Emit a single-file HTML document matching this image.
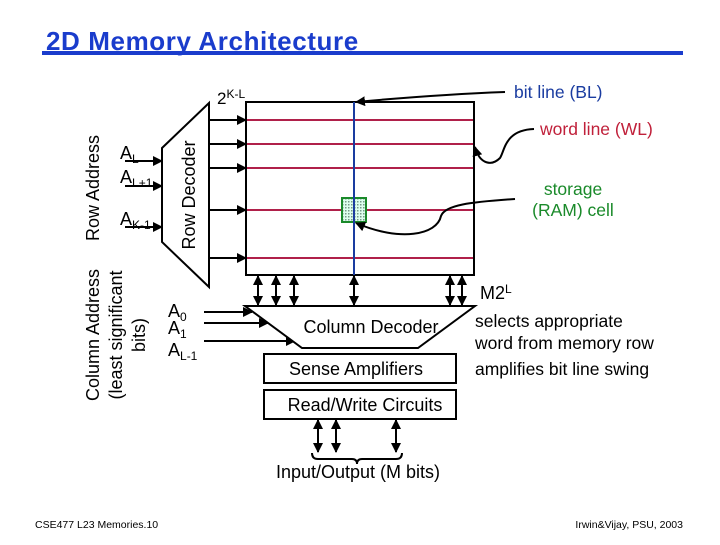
<!DOCTYPE html>
<html><head><style>
body{margin:0;background:#fff;}
svg text{font-family:"Liberation Sans",Arial,sans-serif;}
</style></head><body>
<svg width="720" height="540" viewBox="0 0 720 540" xmlns="http://www.w3.org/2000/svg">
<defs>
<marker id="a" viewBox="0 0 10 10" refX="9" refY="5" markerWidth="5" markerHeight="5" orient="auto-start-reverse"><path d="M0,0L10,5L0,10z" fill="#000"/></marker>
<pattern id="dots" width="3" height="3" patternUnits="userSpaceOnUse"><rect width="3" height="3" fill="#dfe"/><rect width="1.5" height="1.5" fill="#798"/></pattern>
</defs>
<text x="46" y="50" font-size="26" font-weight="bold" fill="#1a3ccc" letter-spacing="0.6">2D Memory Architecture</text>
<rect x="42" y="51" width="641" height="4" fill="#1a3ccc"/>

<!-- array -->
<rect x="246" y="102" width="228" height="173" fill="#fff" stroke="#000" stroke-width="2"/>
<g stroke="#b0204a" stroke-width="2">
<line x1="247" y1="120" x2="473" y2="120"/><line x1="247" y1="144" x2="473" y2="144"/>
<line x1="247" y1="168" x2="473" y2="168"/><line x1="247" y1="210" x2="473" y2="210"/>
<line x1="247" y1="258" x2="473" y2="258"/></g>
<rect x="342" y="198" width="24" height="24" fill="url(#dots)" stroke="#1a8a2a" stroke-width="2"/>
<line x1="354" y1="102" x2="354" y2="275" stroke="#1a3ca0" stroke-width="2"/>

<!-- row decoder -->
<path d="M162,148 L209,103 L209,287 L162,242 Z" fill="#fff" stroke="#000" stroke-width="2"/>
<text transform="translate(195,195) rotate(-90)" text-anchor="middle" font-size="18">Row Decoder</text>
<g stroke="#000" stroke-width="2" marker-end="url(#a)">
<line x1="209" y1="120" x2="246" y2="120"/><line x1="209" y1="144" x2="246" y2="144"/>
<line x1="209" y1="168" x2="246" y2="168"/><line x1="209" y1="210" x2="246" y2="210"/>
<line x1="209" y1="258" x2="246" y2="258"/>
<line x1="125" y1="161" x2="162" y2="161"/><line x1="125" y1="186" x2="162" y2="186"/>
<line x1="125" y1="227" x2="162" y2="227"/>
<line x1="204" y1="312" x2="252" y2="312"/><line x1="204" y1="323" x2="268" y2="323"/>
<line x1="204" y1="341" x2="295" y2="341"/>
</g>
<text x="120" y="159" font-size="18">A<tspan font-size="12" dy="4">L</tspan></text>
<text x="120" y="183" font-size="18">A<tspan font-size="12" dy="4">L+1</tspan></text>
<text x="120" y="225" font-size="18">A<tspan font-size="12" dy="4">K-1</tspan></text>
<text x="217" y="104" font-size="17">2<tspan font-size="12" dy="-6">K-L</tspan></text>

<text transform="translate(99,188) rotate(-90)" text-anchor="middle" font-size="18">Row Address</text>
<text transform="translate(99,335) rotate(-90)" text-anchor="middle" font-size="18">Column Address</text>
<text transform="translate(122,335) rotate(-90)" text-anchor="middle" font-size="18">(least significant</text>
<text transform="translate(145,335) rotate(-90)" text-anchor="middle" font-size="18">bits)</text>

<!-- column decoder -->
<path d="M245,306 L475,306 L418,348 L302,348 Z" fill="#fff" stroke="#000" stroke-width="2"/>
<text x="371" y="333" text-anchor="middle" font-size="18">Column Decoder</text>
<g stroke="#000" stroke-width="2" marker-start="url(#a)" marker-end="url(#a)">
<line x1="258" y1="276" x2="258" y2="305"/><line x1="276" y1="276" x2="276" y2="305"/>
<line x1="294" y1="276" x2="294" y2="305"/><line x1="354" y1="276" x2="354" y2="305"/>
<line x1="450" y1="276" x2="450" y2="305"/><line x1="462" y1="276" x2="462" y2="305"/>
<line x1="318" y1="420" x2="318" y2="452"/><line x1="336" y1="420" x2="336" y2="452"/>
<line x1="396" y1="420" x2="396" y2="452"/>
</g>
<text x="168" y="317" font-size="18">A<tspan font-size="12" dy="4">0</tspan></text>
<text x="168" y="334" font-size="18">A<tspan font-size="12" dy="4">1</tspan></text>
<text x="168" y="356" font-size="18">A<tspan font-size="12" dy="4">L-1</tspan></text>
<rect x="264" y="354" width="192" height="29" fill="#fff" stroke="#000" stroke-width="2"/>
<text x="356" y="375" text-anchor="middle" font-size="18">Sense Amplifiers</text>
<rect x="264" y="390" width="192" height="29" fill="#fff" stroke="#000" stroke-width="2"/>
<text x="365" y="411" text-anchor="middle" font-size="18">Read/Write Circuits</text>
<path d="M312,453 Q312,459 318,459 L352,459 Q357,459 357,464 Q357,459 362,459 L396,459 Q402,459 402,453" fill="none" stroke="#000" stroke-width="2"/>
<text x="358" y="478" text-anchor="middle" font-size="18">Input/Output (M bits)</text>

<!-- callouts -->
<path d="M505,92 C450,94 400,98 356,102" fill="none" stroke="#000" stroke-width="2" marker-end="url(#a)"/>
<text x="514" y="98" font-size="17.5" fill="#1a3ca0">bit line (BL)</text>
<path d="M534,129 C505,130 505,150 500,158 C492,166 480,165 475,147" fill="none" stroke="#000" stroke-width="2" marker-end="url(#a)"/>
<text x="540" y="135" font-size="17.5" fill="#c0203a">word line (WL)</text>
<path d="M515,199 C470,202 445,205 441,216 C437,235 400,242 356,223" fill="none" stroke="#000" stroke-width="2" marker-end="url(#a)"/>
<text x="573" y="195" text-anchor="middle" font-size="17.5" fill="#1a8a2a">storage</text>
<text x="573" y="216" text-anchor="middle" font-size="17.5" fill="#1a8a2a">(RAM) cell</text>
<text x="480" y="299" font-size="18">M2<tspan font-size="12" dy="-6">L</tspan></text>
<text x="475" y="327" font-size="17.5">selects appropriate</text>
<text x="475" y="349" font-size="17.5">word from memory row</text>
<text x="475" y="375" font-size="17.5">amplifies bit line swing</text>

<text x="35" y="528" font-size="10.5">CSE477  L23 Memories.10</text>
<text x="683" y="528" text-anchor="end" font-size="10.5">Irwin&amp;Vijay, PSU, 2003</text>
</svg>
</body></html>
